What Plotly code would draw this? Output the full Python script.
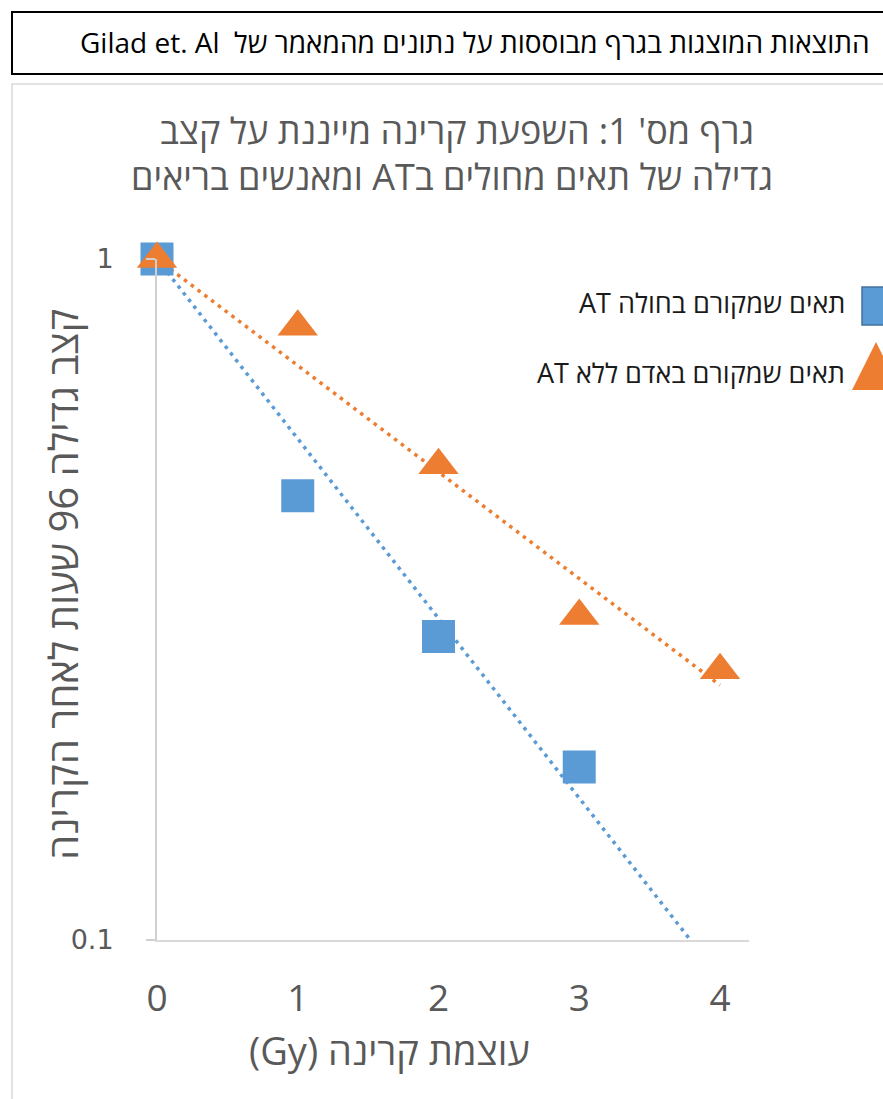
import numpy as np
import plotly.graph_objects as go

W, H = 883, 1099

# ---- data ----
dose = [0, 1, 2, 3, 4]
at_patient_dose = [0, 1, 2, 3]
at_patient = [1.0, 0.449, 0.279, 0.1795]
healthy_dose = [0, 1, 2, 3, 4]
healthy = [1.0, 0.795, 0.498, 0.299, 0.249]
ytick_vals = [0.1, 1]
ytick_text = ["0.1", "1"]

RLE, PDF = "\u202b", "\u202c"
def rtl(s):
    return RLE + s + PDF

name_at = "תאים שמקורם בחולה AT"
name_healthy = "תאים שמקורם באדם ללא AT"
title_l1 = "גרף מס' 1: השפעת קרינה מייננת על קצב"
title_l2 = "גדילה של תאים מחולים בAT ומאנשים בריאים"
x_title = "עוצמת קרינה (Gy)"
y_title = "קצב גדילה 96 שעות לאחר הקרינה"
note = "התוצאות המוצגות בגרף מבוססות על נתונים מהמאמר של  Gilad et. Al"

BLUE = "#5B9BD5"
ORANGE = "#ED7D31"
GREY = "#595959"
FONT = "Open Sans, DejaVu Sans, sans-serif"

def exp_fit_through_one(x, y):
    x = np.asarray(x, float)
    ly = np.log(np.asarray(y, float))
    return float((x * ly).sum() / (x * x).sum())

k_at = exp_fit_through_one(at_patient_dose, at_patient)
k_h = exp_fit_through_one(healthy_dose, healthy)
xt = np.linspace(0, 4, 81)

fig = go.Figure()
fig.add_trace(go.Scatter(x=xt, y=np.exp(k_at * xt), mode="lines",
                         line=dict(color=BLUE, width=3.5, dash="3.5px,5px"),
                         showlegend=False, hoverinfo="skip"))
fig.add_trace(go.Scatter(x=xt, y=np.exp(k_h * xt), mode="lines",
                         line=dict(color=ORANGE, width=3.5, dash="3.5px,5px"),
                         showlegend=False, hoverinfo="skip"))
fig.add_trace(go.Scatter(x=at_patient_dose, y=at_patient, mode="markers",
                         marker=dict(symbol="square", size=33, color=BLUE, line=dict(width=0)),
                         cliponaxis=False, showlegend=False, name=name_at))
fig.add_trace(go.Scatter(x=healthy_dose, y=healthy, mode="markers",
                         marker=dict(symbol="triangle-up", size=35, color=ORANGE, line=dict(width=0)),
                         cliponaxis=False, showlegend=False, name=name_healthy))

def px(x):
    return x / W
def py(y):
    return 1 - y / H

fig.update_layout(
    width=W, height=H,
    margin=dict(l=0, r=0, t=0, b=0, pad=0, autoexpand=False),
    paper_bgcolor="white", plot_bgcolor="white",
    showlegend=False,
    xaxis=dict(domain=[px(157), px(749)], range=[0, 4.206], automargin=False,
               tickvals=dose, ticktext=[str(d) for d in dose],
               showgrid=False, zeroline=False, showline=True,
               linecolor="#D9D9D9", linewidth=2, ticks="",
               ticklabelstandoff=25,
               tickfont=dict(family=FONT, size=37, color=GREY)),
    yaxis=dict(domain=[py(940), py(259)], type="log", range=[-1, 0], automargin=False,
               tickvals=ytick_vals, ticktext=ytick_text,
               showgrid=True, gridcolor="#D9D9D9", gridwidth=2,
               zeroline=False, showline=True, linecolor="#D0D0D0", linewidth=2,
               ticks="outside", ticklen=9, tickcolor="#D0D0D0", tickwidth=2,
               ticklabelstandoff=27,
               tickfont=dict(family="DejaVu Sans, sans-serif", size=27, color=GREY)),
)

shapes = [
    dict(type="rect", xref="paper", yref="paper", x0=px(12), x1=px(900), y0=py(12), y1=py(74),
         line=dict(color="black", width=2), fillcolor="rgba(0,0,0,0)", layer="above"),
    dict(type="rect", xref="paper", yref="paper", x0=px(12), x1=px(900), y0=py(84), y1=py(1110),
         line=dict(color="#D9D9D9", width=1.5), fillcolor="rgba(0,0,0,0)", layer="below"),
    # legend symbols
    dict(type="rect", xref="paper", yref="paper", x0=px(862), x1=px(899), y0=py(287), y1=py(325),
         line=dict(color="#41719C", width=1.5), fillcolor=BLUE),
    dict(type="path", xref="paper", yref="paper",
         path=f"M {px(852)} {py(390)} L {px(876)} {py(342)} L {px(900)} {py(390)} Z",
         line=dict(width=0), fillcolor=ORANGE),
]
fig.update_layout(shapes=shapes)

ann = [
    dict(text=rtl(note), x=px(872), y=py(42), xanchor="right", yanchor="middle",
         font=dict(family=FONT, size=28, color="black")),
    dict(text=rtl(title_l1), x=px(457), y=py(131), xanchor="center", yanchor="middle",
         font=dict(family=FONT, size=36, color=GREY)),
    dict(text=rtl(title_l2), x=px(452), y=py(177), xanchor="center", yanchor="middle",
         font=dict(family=FONT, size=36, color=GREY)),
    dict(text=rtl(x_title), x=px(389), y=py(1050), xanchor="center", yanchor="middle",
         font=dict(family=FONT, size=38, color=GREY)),
    dict(text=rtl(y_title), x=px(62), y=py(585), xanchor="center", yanchor="middle", textangle=-90,
         font=dict(family=FONT, size=40, color=GREY)),
    dict(text=rtl(name_at), x=px(847), y=py(302), xanchor="right", yanchor="middle",
         font=dict(family=FONT, size=27, color="#1A1A1A")),
    dict(text=rtl(name_healthy), x=px(847), y=py(372), xanchor="right", yanchor="middle",
         font=dict(family=FONT, size=27, color="#1A1A1A")),
]
for a in ann:
    a.update(xref="paper", yref="paper", showarrow=False)
fig.update_layout(annotations=ann)

fig.write_html("out.html")
